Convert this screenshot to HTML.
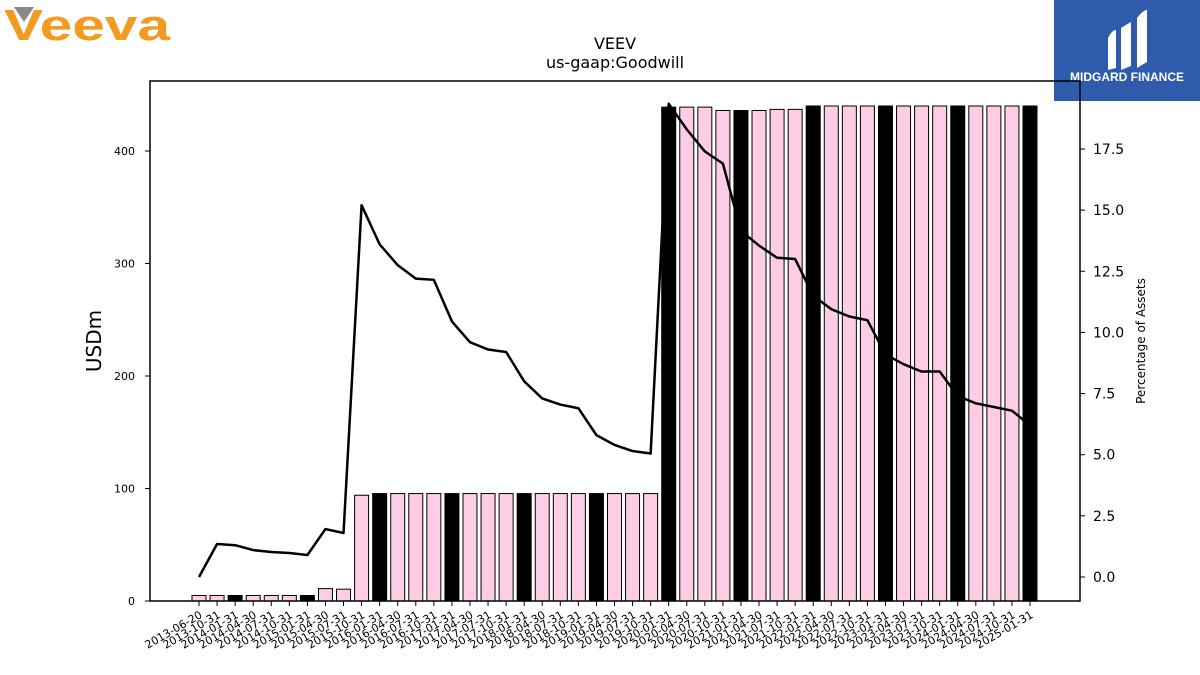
<!DOCTYPE html>
<html><head><meta charset="utf-8"><style>
html,body{margin:0;padding:0;background:#fff;}
svg{display:block;font-family:"DejaVu Sans","Liberation Sans",sans-serif;}
</style></head><body>
<svg id="chart" width="1200" height="675" viewBox="0 0 1200 675" xmlns="http://www.w3.org/2000/svg">
<g>
<polygon points="14,7 34,7 24,22" fill="#8a8a8c"/>
<text x="4" y="40" font-family="Liberation Sans, sans-serif" font-size="44" fill="#f39a21" font-weight="bold" textLength="166" lengthAdjust="spacingAndGlyphs">Veeva</text>
</g>
<g>
<rect x="1054" y="0" width="146" height="101" fill="#2e5bab"/>
<path d="M1108,38 Q1112,30 1116,30 L1116,68 L1108,70 Z" fill="#fff"/>
<path d="M1121,28 L1131,22 L1131,66 L1121,70 Z" fill="#fff"/>
<path d="M1137,18 Q1143,10 1147,10 L1147,62 L1137,68 Z" fill="#fff"/>
<text x="1127" y="81" text-anchor="middle" font-family="Liberation Sans, sans-serif" font-weight="bold" font-size="12" fill="#fff">MIDGARD FINANCE</text>
</g>
<text x="615" y="49" text-anchor="middle" font-size="16">VEEV</text>
<text x="615" y="68" text-anchor="middle" font-size="16">us-gaap:Goodwill</text>
<g id="plot"></g>
<rect x="150" y="81" width="930" height="520" fill="none" stroke="#000" stroke-width="1.5"/>
<text transform="translate(101,341) rotate(-90)" text-anchor="middle" font-size="20">USDm</text>
<text transform="translate(1145,341) rotate(-90)" text-anchor="middle" font-size="12">Percentage of Assets</text>
</svg>
<script>
const categories=["2013-06-20","2013-10-31","2014-01-31","2014-04-30","2014-07-31","2014-10-31","2015-01-31","2015-04-30","2015-07-31","2015-10-31","2016-01-31","2016-04-30","2016-07-31","2016-10-31","2017-01-31","2017-04-30","2017-07-31","2017-10-31","2018-01-31","2018-04-30","2018-07-31","2018-10-31","2019-01-31","2019-04-30","2019-07-31","2019-10-31","2020-01-31","2020-04-30","2020-07-31","2020-10-31","2021-01-31","2021-04-30","2021-07-31","2021-10-31","2022-01-31","2022-04-30","2022-07-31","2022-10-31","2023-01-31","2023-04-30","2023-07-31","2023-10-31","2024-01-31","2024-04-30","2024-07-31","2024-10-31","2025-01-31"];
const goodwill=[4.9,4.9,4.9,4.9,4.9,4.9,4.9,11,10.5,94,95.5,95.5,95.5,95.5,95.5,95.5,95.5,95.5,95.5,95.5,95.5,95.5,95.5,95.5,95.5,95.5,439,439,439,436,436,436,437,437,440,440,440,440,440,440,440,440,440,440,440,440,440];
const pctAssets=[0,1.35,1.3,1.1,1.02,0.98,0.9,1.96,1.8,15.2,13.6,12.75,12.2,12.15,10.45,9.6,9.3,9.2,8.0,7.3,7.05,6.9,5.8,5.4,5.15,5.05,19.35,18.3,17.4,16.9,14.15,13.55,13.05,13.0,11.5,10.95,10.65,10.5,9.1,8.7,8.4,8.4,7.4,7.1,6.95,6.8,6.2];
const leftTicks=[0,100,200,300,400];
const rightTicks=[0,2.5,5,7.5,10,12.5,15,17.5];
const NS="http://www.w3.org/2000/svg";
const g=document.getElementById('plot');
const xPos=i=>199+i*(1030-199)/46;
const yL=v=>601-v*1.125;
const yR=v=>577-v*24.46;
function mk(t,a){const e=document.createElementNS(NS,t);for(const k in a)e.setAttribute(k,a[k]);g.appendChild(e);return e;}
goodwill.forEach((v,i)=>{
 const black=categories[i].slice(5,7)==="01";
 const r=mk('rect',{x:xPos(i)-7,y:yL(v),width:14,height:601-yL(v),fill:black?'#000':'#fccde5',stroke:'#000','stroke-width':1});
 
 
 const t=mk('line',{x1:xPos(i),x2:xPos(i),y1:601,y2:606,stroke:'#000'});
 
 
 const l=mk('text',{x:0,y:0,'font-size':11,'text-anchor':'end',transform:`translate(${xPos(i)+4},${617}) rotate(-30)`});
 l.textContent=categories[i];
 
 
});
const p=mk('polyline',{points:pctAssets.map((v,i)=>xPos(i)+','+yR(v)).join(' '),fill:'none',stroke:'#000','stroke-width':2.5,'stroke-linejoin':'round'});


leftTicks.forEach(v=>{
 mk('line',{x1:145,x2:150,y1:yL(v),y2:yL(v),stroke:'#000'});
 const t=mk('text',{x:135,y:yL(v)+4,'font-size':11,'text-anchor':'end'});
 t.textContent=v;
 
 
});
rightTicks.forEach(v=>{
 mk('line',{x1:1080,x2:1085,y1:yR(v),y2:yR(v),stroke:'#000'});
 const t=mk('text',{x:1093,y:yR(v)+5,'font-size':14});
 t.textContent=v.toFixed(1);
 
 
});
</script>
</body></html>
